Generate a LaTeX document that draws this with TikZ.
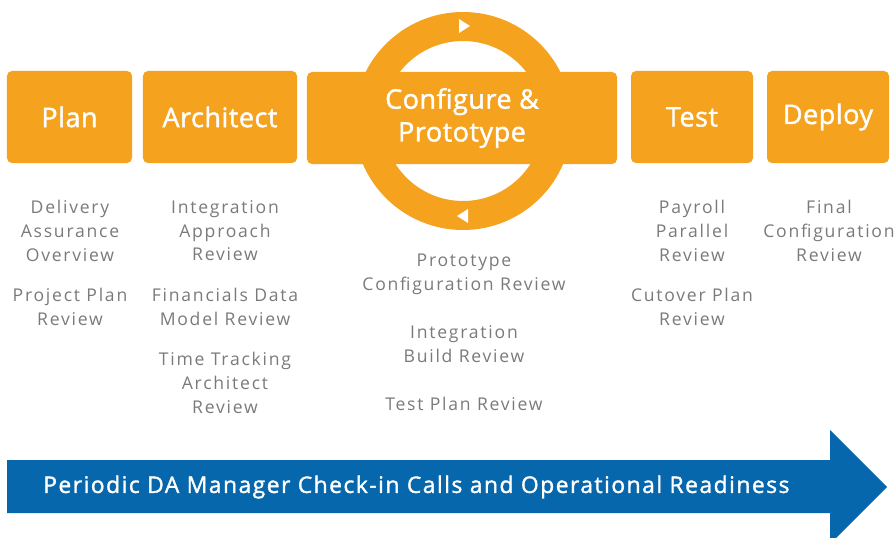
\documentclass[tikz,border=0pt]{standalone}
\usepackage{fontspec}
\setmainfont{Open Sans}
\newfontfamily\titlefont[FakeBold=1.5, LetterSpace=2]{Open Sans}
\newfontfamily\reviewfont[LetterSpace=10]{Open Sans}
\newfontfamily\arrowfont[FakeBold=1.5, LetterSpace=6.5]{Open Sans}
\usepackage{xcolor}
\usepackage{tikz}
\usetikzlibrary{arrows.meta}

\definecolor{phaseorange}{HTML}{F5A21F}
\definecolor{readyblue}{HTML}{0767AD}
\definecolor{reviewgray}{HTML}{7A7A7A}

\begin{document}
\begin{tikzpicture}[
    x=0.03cm, y=-0.03cm,
    phase/.style={fill=phaseorange, rounded corners=0.15cm, inner sep=0pt,
                  minimum height=2.76cm, text=white,
                  font=\titlefont\fontsize{23}{28}\selectfont, align=center},
    review/.style={text=reviewgray, font=\reviewfont\fontsize{15}{20.4}\selectfont,
                   align=center, inner sep=0pt}
]
\useasboundingbox (0,0) rectangle (896,538);

% Ring :
\fill[phaseorange, even odd rule] (463,121) circle[radius=109] (463,121) circle[radius=80];
\fill[white] (459,19) -- (470,26) -- (459,33) -- cycle;
\fill[white] (468,209) -- (457,216) -- (468,223) -- cycle;

% Nodes :
\node[phase, minimum width=3.75cm] (plan) at (69.5,117) {Plan};
\node[phase, minimum width=4.62cm] (arch) at (220,117) {Architect};
\node[phase, minimum width=9.3cm] (conf) at (462,118) {Configure \&\\Prototype};
\node[phase, minimum width=3.66cm] (test) at (692,117) {Test};
\node[phase, minimum width=3.66cm] (depl) at (828,117) {Deploy};

\node[review, anchor=north] (plan1) at (70,200) {Delivery\\Assurance\\Overview};
\node[review, anchor=north] (plan2) at (70,288) {Project Plan\\Review};

\node[review, anchor=north] (arch1) at (225,200) {Integration\\Approach\\Review};
\node[review, anchor=north] (arch2) at (225,288) {Financials Data\\Model Review};
\node[review, anchor=north] (arch3) at (225,352) {Time Tracking\\Architect\\Review};

\node[review, anchor=north] (conf1) at (464,254) {Prototype\\Configuration Review};
\node[review, anchor=north] (conf2) at (464,325) {Integration\\Build Review};
\node[review, anchor=north] (conf3) at (464,397) {Test Plan Review};

\node[review, anchor=north] (test1) at (692,200) {Payroll\\Parallel\\Review};
\node[review, anchor=north] (test2) at (692,288) {Cutover Plan\\Review};

\node[review, anchor=north] (depl1) at (829,200) {Final\\Configuration\\Review};

% Arrow :
\fill[readyblue] (7,460) -- (830,460) -- (830,430) -- (887,487) -- (830,544)
    -- (830,513) -- (7,513) -- cycle;
\node[text=white, anchor=west, inner sep=0pt, font=\arrowfont\fontsize{19.5}{22}\selectfont] (ready) at (43,487)
    {Periodic DA Manager Check-in Calls and Operational Readiness};

\end{tikzpicture}
\end{document}
